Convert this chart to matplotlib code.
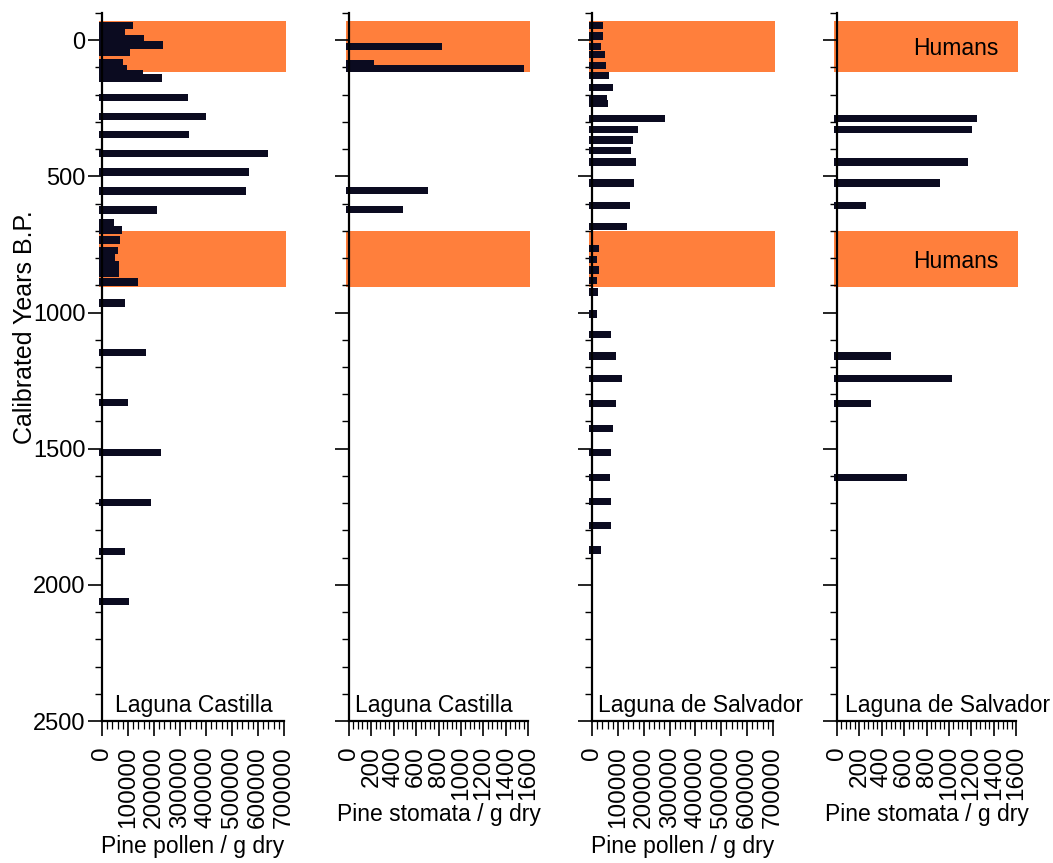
import matplotlib
matplotlib.use("Agg")
import matplotlib.pyplot as plt
from matplotlib.ticker import MultipleLocator, NullFormatter

plt.rcParams['font.family'] = ['Liberation Sans', 'DejaVu Sans']

# Laguna Castilla, pine pollen concentration (grains / g dry)
castilla_pollen_age = [-55, -30, -7, 18, 44, 84, 103, 121, 139, 210, 279, 345, 415,
                       484, 554, 624, 671, 697, 734, 771, 800, 826, 855, 888, 965,
                       1146, 1330, 1514, 1698, 1878, 2061]
castilla_pollen = [118000, 88000, 163000, 236000, 108000, 81000, 95000, 157000, 230000,
                   332000, 399000, 335000, 640000, 567000, 554000, 210000, 46000, 76000,
                   69000, 60000, 50000, 65000, 65000, 140000, 88000, 169000, 101000,
                   226000, 187000, 88000, 104000]

# Laguna Castilla, pine stomata (/ g dry)
castilla_stomata_age = [22, 86, 104, 553, 621]
castilla_stomata = [829, 226, 1567, 709, 486]

# Laguna de Salvador, pine pollen concentration
salvador_pollen_age = [-53, -16, 24, 53, 92, 130, 174, 214, 232, 287, 328, 367, 404, 447,
                       524, 606, 685, 766, 805, 844, 883, 925, 1005, 1080, 1160, 1243,
                       1333, 1425, 1514, 1605, 1694, 1783, 1872]
salvador_pollen = [41000, 41000, 34000, 50000, 54000, 66000, 80000, 59000, 63000, 282000,
                   179000, 157000, 150000, 170000, 164000, 148000, 134000, 28000, 20000,
                   27000, 18000, 23000, 20000, 72000, 92000, 117000, 93000, 80000, 73000,
                   70000, 72000, 72000, 35000]

# Laguna de Salvador, pine stomata
salvador_stomata_age = [287, 328, 447, 524, 606, 1160, 1242, 1333, 1605]
salvador_stomata = [1249, 1210, 1168, 921, 257, 480, 1025, 301, 628]

# Periods of human presence (cal. yr B.P.)
human_periods = [(-70, 115), (700, 905)]

site_names = ["Laguna Castilla", "Laguna Castilla", "Laguna de Salvador", "Laguna de Salvador"]
x_labels = ["Pine pollen / g dry", "Pine stomata / g dry", "Pine pollen / g dry", "Pine stomata / g dry"]

BAR = '#0b0b20'
BAND = '#ff7f3c'
FS_TICK = 17.5
FS_TEXT = 16.5

W, H = 1053, 863
fig = plt.figure(figsize=(W / 100, H / 100), dpi=100)

lefts = [102, 349, 592, 837]
widths = [182, 179, 181, 179]
title_offsets = [13, 6, 6, 8]
label_pads = [5, 2, 5, 2]
top_px, bot_px = 13, 721

panels = [
    (castilla_pollen_age, castilla_pollen, 700000, 100000, 20000),
    (castilla_stomata_age, castilla_stomata, 1600, 200, 40),
    (salvador_pollen_age, salvador_pollen, 700000, 100000, 20000),
    (salvador_stomata_age, salvador_stomata, 1600, 200, 40),
]

for i, (ages, vals, xmax, major, minor) in enumerate(panels):
    ax = fig.add_axes([lefts[i] / W, 1 - bot_px / H, widths[i] / W, (bot_px - top_px) / H])
    ax.set_xlim(0, xmax)
    ax.set_ylim(2500, -100)

    for y0, y1 in human_periods:
        ax.axhspan(y0, y1, xmin=-0.018, xmax=1.012, color=BAND, lw=0, zorder=1, clip_on=False)

    offset = 0.015 * xmax
    ax.barh(ages, [v + offset for v in vals], left=-offset, height=27,
            color=BAR, edgecolor='none', zorder=3, clip_on=False)

    for s in ('top', 'right'):
        ax.spines[s].set_visible(False)
    for s in ('left', 'bottom'):
        ax.spines[s].set_linewidth(1.6)
        ax.spines[s].set_zorder(4)

    ax.yaxis.set_major_locator(MultipleLocator(500))
    ax.yaxis.set_minor_locator(MultipleLocator(100))
    ax.xaxis.set_major_locator(MultipleLocator(major))
    ax.xaxis.set_minor_locator(MultipleLocator(minor))
    ax.tick_params(axis='y', which='major', length=10, width=1.2, labelsize=17, pad=2)
    ax.tick_params(axis='y', which='minor', length=5, width=1.0)
    ax.tick_params(axis='x', which='major', length=11, width=1.2, labelsize=FS_TICK,
                   labelrotation=90, pad=7)
    ax.tick_params(axis='x', which='minor', length=6, width=0.9)
    for lbl in ax.get_xticklabels():
        lbl.set_verticalalignment('top')
    if i > 0:
        ax.yaxis.set_major_formatter(NullFormatter())

    ax.set_xlabel(x_labels[i], fontsize=FS_TEXT, labelpad=label_pads[i])
    ax.annotate(site_names[i], xy=(0, 0), xycoords='axes fraction',
                xytext=(title_offsets[i] * 0.72, 3), textcoords='offset points',
                ha='left', va='bottom', fontsize=FS_TEXT, zorder=5, annotation_clip=False)

    if i == 3:
        for y0, y1 in human_periods:
            ax.text(0.9 * xmax, (y0 + y1) / 2, "Humans", ha='right', va='center_baseline',
                    fontsize=FS_TEXT, zorder=5)

fig.text(25 / W, 1 - 327 / H, "Calibrated Years B.P.", rotation=90, ha='center', va='center',
         fontsize=18)

fig.savefig("out.png", dpi=100)
